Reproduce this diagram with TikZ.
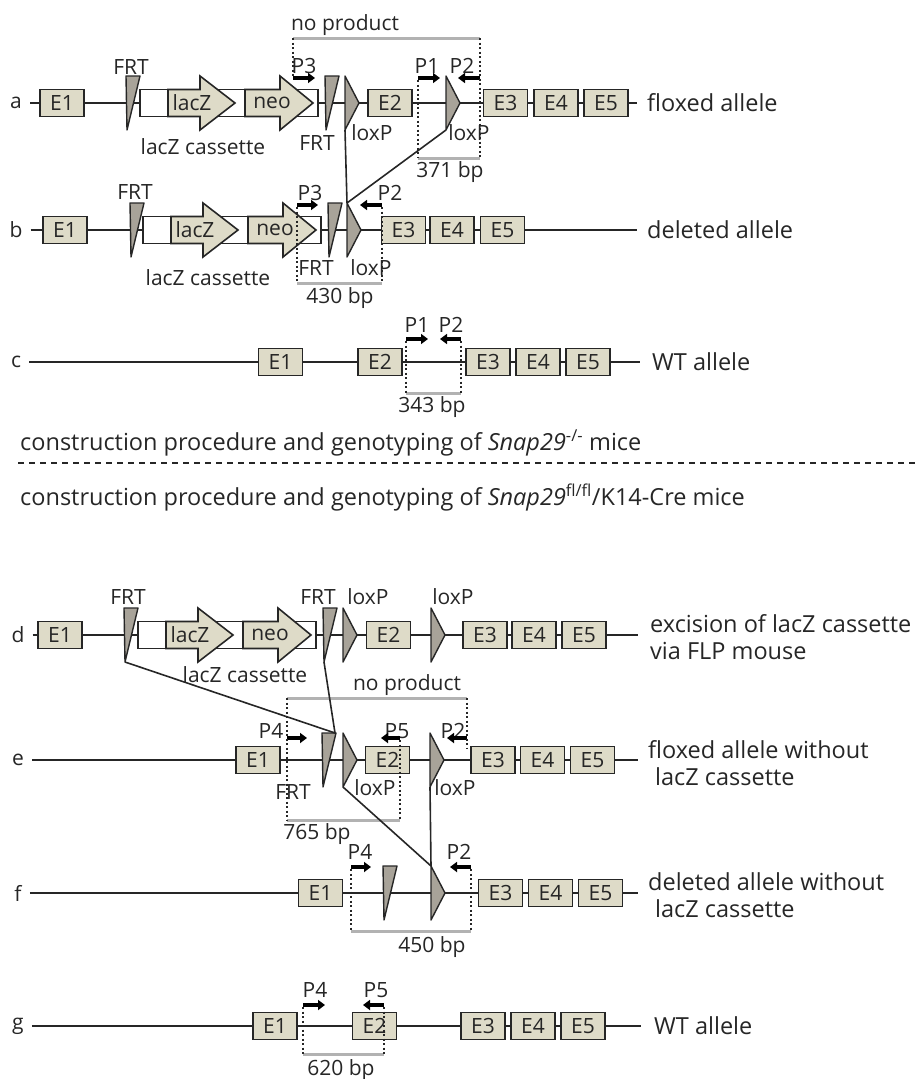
\documentclass[tikz,border=0pt]{standalone}
\usepackage{fontspec}
\setmainfont{Open Sans}
\usetikzlibrary{arrows.meta}
\definecolor{exonc}{RGB}{222,219,200}
\definecolor{sitec}{RGB}{168,163,153}
\definecolor{prodc}{RGB}{178,178,178}
\definecolor{inkc}{RGB}{38,38,38}
% FRT site: name, left x, baseline y
\newcommand{\frtsite}[3]{%
  \draw[site] (#2,#3-27) -- (#2+14,#3-27) -- (#2+1,#3+27) -- cycle;
  \coordinate (#1-t) at (#2+13,#3-27);
  \coordinate (#1-b) at (#2+1,#3+27);}
% loxP site: name, left x, baseline y
\newcommand{\loxsite}[3]{%
  \draw[site] (#2,#3-27) -- (#2+14,#3) -- (#2,#3+27) -- cycle;
  \coordinate (#1-t) at (#2,#3-27);
  \coordinate (#1-b) at (#2,#3+27);}
% lacZ/neo cassette: left x, baseline y
\newcommand{\lacZcas}[2]{%
  \begin{scope}[shift={(#1,#2)}]
    \draw[line width=1.6pt, draw=inkc, fill=white] (0,-13.5) rectangle (178,13.5);
    \draw[cas] (28,-13.5) -- (60,-13.5) -- (60,-27) -- (95,0) -- (60,27) -- (60,13.5) -- (28,13.5) -- cycle;
    \node at (52,0) {lacZ};
    \draw[cas] (105,-13.5) -- (140,-13.5) -- (140,-27) -- (173,0) -- (140,27) -- (140,13.5) -- (105,13.5) -- cycle;
    \node at (132,0) {neo};
  \end{scope}}

\begin{document}
\begin{tikzpicture}
  [x=1pt, y=-1pt,
   font=\fontsize{21}{26}\selectfont, text=inkc,
   exon/.style = {draw=inkc, fill=exonc, line width=1.6pt, minimum width=44pt, minimum height=27pt, inner sep=0pt},
   site/.style = {draw=inkc, fill=sitec, line width=1.4pt, line join=round},
   cas/.style = {draw=inkc, fill=exonc, line width=1.6pt, line join=miter},
   dna/.style = {draw=inkc, line width=1.8pt},
   cross/.style = {draw=inkc, line width=1.6pt},
   prod/.style = {draw=prodc, line width=3pt},
   dots/.style = {draw=inkc, line width=1.3pt, dash pattern=on 2pt off 2.5pt},
   primer/.style = {draw=black, line width=3.5pt, -{Triangle[length=7pt,width=10pt]}},
   lbl/.style = {inner xsep=8pt},
   side/.style = {anchor=west, align=left, inner sep=0pt, font=\fontsize{23.5}{27}\selectfont}]
  \useasboundingbox (0,0) rectangle (918,1079);

  % ---------- a: floxed allele
  \node[lbl] (la) at (16,103) {a};
  \coordinate (a-end) at (637,103);
  \draw[dna] (la.east) -- (a-end);
  \node[exon] (a1) at (62,103) {E1};
  \frtsite{fra1}{126}{103}
  \lacZcas{140}{103}
  \frtsite{fra2}{325}{103}
  \loxsite{lxa1}{345}{103}
  \node[exon] (a2) at (390,103) {E2};
  \loxsite{lxa2}{446}{103}
  \node[exon] (a3) at (505.5,103) {E3};
  \node[exon] (a4) at (556,103) {E4};
  \node[exon] (a5) at (606,103) {E5};
  \node[side] (ta) at (647,103) {floxed allele};
  \node (fa1) at (131,67) {FRT};
  \node (fa2) at (317,143) {FRT};
  \node (xa1) at (372,133) {loxP};
  \node (xa2) at (469,133) {loxP};
  \node (ca) at (203,147) {lacZ cassette};
  \node (npa) at (345,25) {no product};
  \node (pa3) at (304,66) {P3};
  \node (pa1) at (427,66) {P1};
  \node (pa2) at (462,66) {P2};
  \draw[primer] (293,78) -- (315,78);
  \draw[primer] (418,78) -- (440,78);
  \draw[primer] (480,78) -- (458,78);
  \draw[prod] (293,38) -- (480,38);
  \draw[prod] (418,158) -- (480,158);
  \draw[dots] (293,38) -- (293,76);
  \draw[dots] (418,80) -- (418,158);
  \draw[dots] (480,38) -- (480,158);
  \node (sa) at (450,172) {371 bp};

  % ---------- b: deleted allele
  \node[lbl] (lb) at (16,230) {b};
  \coordinate (b-end) at (637,230);
  \draw[dna] (lb.east) -- (b-end);
  \node[exon] (b1) at (65,230) {E1};
  \frtsite{frb1}{130}{230}
  \lacZcas{143}{230}
  \frtsite{frb2}{328}{230}
  \loxsite{lxb1}{347}{230}
  \node[exon] (b3) at (403.5,230) {E3};
  \node[exon] (b4) at (452,230) {E4};
  \node[exon] (b5) at (502.5,230) {E5};
  \node[side] (tb) at (647,230) {deleted allele};
  \node (fb1) at (135,192) {FRT};
  \node (fb2) at (316,268) {FRT};
  \node (xb1) at (371,268) {loxP};
  \node (cb) at (208,278) {lacZ cassette};
  \node (pb3) at (310,193) {P3};
  \node (pb2) at (390,193) {P2};
  \draw[primer] (297,205) -- (318,205);
  \draw[primer] (382,205) -- (360,205);
  \draw[prod] (297,283) -- (382,283);
  \draw[dots] (297,207) -- (297,283);
  \draw[dots] (382,207) -- (382,283);
  \node (sb) at (340,298) {430 bp};
  \draw[cross] (lxa1-b) -- (lxb1-t);
  \draw[cross] (lxa2-b) -- (lxb1-t);

  % ---------- c: WT allele
  \node[lbl] (lc) at (16,362) {c};
  \coordinate (c-end) at (640,362);
  \draw[dna] (lc.east) -- (c-end);
  \node[exon] (c1) at (280.5,362) {E1};
  \node[exon] (c2) at (380,362) {E2};
  \node[exon] (c3) at (488,362) {E3};
  \node[exon] (c4) at (538,362) {E4};
  \node[exon] (c5) at (588,362) {E5};
  \node[side] (tc) at (652,362) {WT allele};
  \node (pc1) at (417,325) {P1};
  \node (pc2) at (451,325) {P2};
  \draw[primer] (406,339) -- (428,339);
  \draw[primer] (461,339) -- (440,339);
  \draw[prod] (406,393) -- (461,393);
  \draw[dots] (406,341) -- (406,393);
  \draw[dots] (461,341) -- (461,393);
  \node (sc) at (432,407) {343 bp};

  % ---------- headings
  \node[side] (h1) at (20,443) {construction procedure and genotyping of \textit{Snap29}\textsuperscript{-/-} mice};
  \draw[dna, line width=1.5pt, dash pattern=on 6pt off 5pt] (18,463) -- (918,463);
  \node[side] (h2) at (20,498) {construction procedure and genotyping of \textit{Snap29}\textsuperscript{fl/fl}/K14-Cre mice};

  % ---------- d: excision via FLP
  \node[lbl] (ld) at (18,635) {d};
  \coordinate (d-end) at (638,635);
  \draw[dna] (ld.east) -- (d-end);
  \node[exon] (d1) at (60,635) {E1};
  \frtsite{frd1}{124}{635}
  \lacZcas{138}{635}
  \frtsite{frd2}{323}{635}
  \loxsite{lxd1}{343}{635}
  \node[exon] (d2) at (388.5,635) {E2};
  \loxsite{lxd2}{431}{635}
  \node[exon] (d3) at (485,635) {E3};
  \node[exon] (d4) at (534,635) {E4};
  \node[exon] (d5) at (584,635) {E5};
  \node[side] (td) at (650,637) {excision of lacZ cassette\\via FLP mouse};
  \node (fd1) at (128,597) {FRT};
  \node (fd2) at (318,597) {FRT};
  \node (xd1) at (368,597) {loxP};
  \node (xd2) at (453,597) {loxP};
  \node (cd) at (245,675) {lacZ cassette};
  \node (npd) at (407,685) {no product};
  \draw[prod] (287,698) -- (467,698);

  % ---------- e: floxed allele without lacZ
  \node[lbl] (le) at (18,760) {e};
  \coordinate (e-end) at (638,760);
  \draw[dna] (le.east) -- (e-end);
  \node[exon] (e1) at (258,760) {E1};
  \frtsite{fre}{322}{760}
  \loxsite{lxe1}{343}{760}
  \node[exon] (e2) at (387.5,760) {E2};
  \loxsite{lxe2}{430}{760}
  \node[exon] (e3) at (493,760) {E3};
  \node[exon] (e4) at (542.5,760) {E4};
  \node[exon] (e5) at (592.5,760) {E5};
  \node[side] (te) at (648,763) {floxed allele without\\\hspace*{7pt}lacZ cassette};
  \node (fe) at (293,792) {FRT};
  \node (xe1) at (375,788) {loxP};
  \node (xe2) at (455,788) {loxP};
  \node (pe4) at (271,731) {P4};
  \node (pe5) at (397,731) {P5};
  \node (pe2) at (453,731) {P2};
  \draw[primer] (287,738) -- (307,738);
  \draw[primer] (400,738) -- (381,738);
  \draw[primer] (467,738) -- (447,738);
  \draw[prod] (287,820) -- (400,820);
  \draw[dots] (287,698) -- (287,820);
  \draw[dots] (400,740) -- (400,820);
  \draw[dots] (467,698) -- (467,748);
  \node (se) at (317,834) {765 bp};
  \draw[cross] (frd1-b) -- (fre-t);
  \draw[cross] (frd2-b) -- (fre-t);

  % ---------- f: deleted allele without lacZ
  \node[lbl] (lf) at (18,893) {f};
  \coordinate (f-end) at (638,893);
  \draw[dna] (lf.east) -- (f-end);
  \node[exon] (f1) at (320.5,893) {E1};
  \frtsite{frf}{383}{893}
  \loxsite{lxf}{431}{893}
  \node[exon] (f3) at (500.5,893) {E3};
  \node[exon] (f4) at (550.5,893) {E4};
  \node[exon] (f5) at (600.5,893) {E5};
  \node[side] (tf) at (648,895) {deleted allele without\\\hspace*{7pt}lacZ cassette};
  \node (pf4) at (360,852) {P4};
  \node (pf2) at (459,852) {P2};
  \draw[primer] (351,867) -- (371,867);
  \draw[primer] (471,867) -- (450,867);
  \draw[prod] (351,931) -- (471,931);
  \draw[dots] (351,869) -- (351,931);
  \draw[dots] (471,869) -- (471,931);
  \node (sf) at (432,947) {450 bp};
  \draw[cross] (lxe1-b) -- (lxf-t);
  \draw[cross] (lxe2-b) -- (lxf-t);

  % ---------- g: WT allele
  \node[lbl] (lg) at (18,1026) {g};
  \coordinate (g-end) at (641,1026);
  \draw[dna] (lg.east) -- (g-end);
  \node[exon] (g1) at (275,1026) {E1};
  \node[exon] (g2) at (374.5,1026) {E2};
  \node[exon] (g3) at (483,1026) {E3};
  \node[exon] (g4) at (533,1026) {E4};
  \node[exon] (g5) at (583,1026) {E5};
  \node[side] (tg) at (654,1026) {WT allele};
  \node (pg4) at (315,990) {P4};
  \node (pg5) at (376,990) {P5};
  \draw[primer] (303,1005) -- (325,1005);
  \draw[primer] (384,1005) -- (363,1005);
  \draw[prod] (303,1054) -- (384,1054);
  \draw[dots] (303,1007) -- (303,1054);
  \draw[dots] (384,1007) -- (384,1054);
  \node (sg) at (341,1070) {620 bp};
\end{tikzpicture}
\end{document}
